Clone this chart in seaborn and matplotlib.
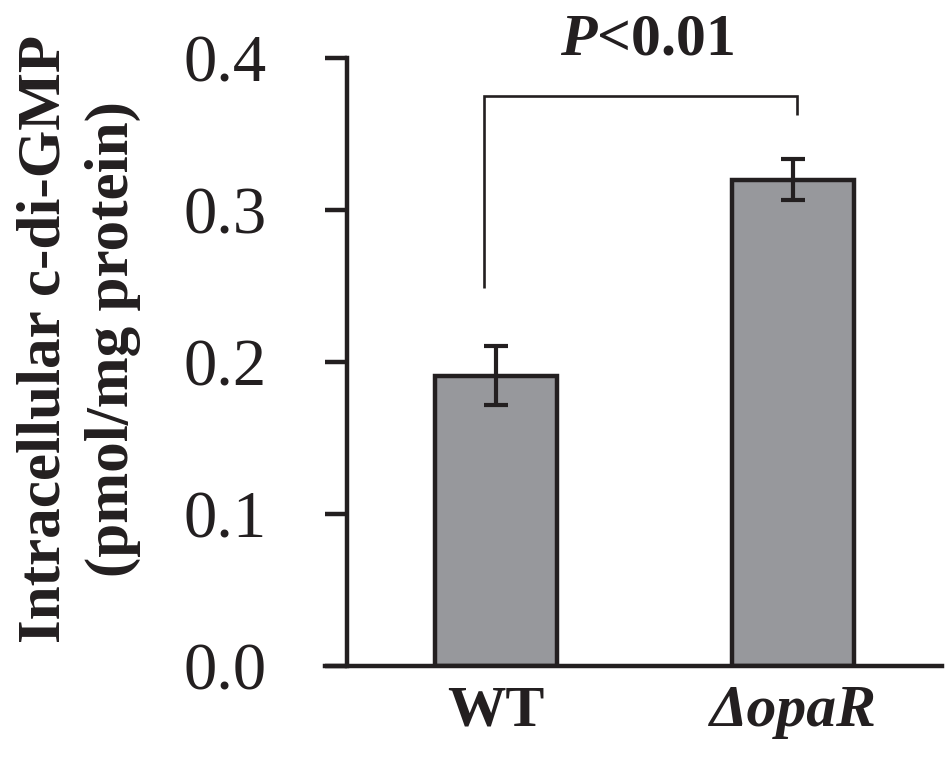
import matplotlib
matplotlib.use("Agg")
import matplotlib.pyplot as plt
import seaborn as sns
import pandas as pd

# ---- data ----
strains = ["WT", "ΔopaR"]
cdigmp = [0.191, 0.320]
cdigmp_err = [0.0195, 0.0135]
y_ticks = [0.0, 0.1, 0.2, 0.3, 0.4]
y_tick_labels = ["0.0", "0.1", "0.2", "0.3", "0.4"]
p_label = "P<0.01"

sns.set_theme(style="white")
plt.rcParams["font.family"] = ["Liberation Serif", "DejaVu Serif"]
plt.rcParams["mathtext.fontset"] = "custom"
plt.rcParams["mathtext.it"] = "Liberation Serif:italic:bold"
plt.rcParams["mathtext.rm"] = "Liberation Serif:bold"
plt.rcParams["mathtext.bf"] = "Liberation Serif:bold"

ink = "#231f20"
fill = "#97989c"

df = pd.DataFrame({"strain": strains, "value": cdigmp})

fig = plt.figure(figsize=(9.5, 7.59), dpi=100)
ax = fig.add_axes([347/950, 93/759, (942-347)/950, (666-58)/759])

sns.barplot(data=df, x="strain", y="value", order=strains, color=fill,
            saturation=1, width=0.41, edgecolor=ink, linewidth=3.2,
            errorbar=None, ax=ax)

ax.errorbar(range(len(strains)), cdigmp, yerr=cdigmp_err, fmt="none",
            ecolor=ink, elinewidth=3.0, capsize=8.3, capthick=3.0, zorder=5)

ax.set_xlim(-0.5, 1.5)
ax.set_ylim(0, 0.4)
ax.set_yticks(y_ticks)
ax.set_yticklabels(y_tick_labels)
ax.set_xlabel("")
ax.set_ylabel("")

for side in ["top", "right"]:
    ax.spines[side].set_visible(False)
for side in ["left", "bottom"]:
    ax.spines[side].set_color(ink)
    ax.spines[side].set_linewidth(3.2)
ax.spines["bottom"].set_bounds(-0.5 - 22/297.5, 1.5)

ax.tick_params(axis="y", which="major", direction="out", length=16, width=3.2,
               color=ink, pad=42, labelsize=48, labelcolor=ink, left=True)
ax.tick_params(axis="x", which="major", length=0, pad=14, labelcolor=ink)

xl = ax.get_xticklabels()
xl[0].set_fontsize(42)
xl[0].set_fontweight("bold")
xl[1].set_fontsize(43)
xl[1].set_fontweight("bold")
xl[1].set_fontstyle("italic")

# significance bracket
ax.plot([-0.04, -0.04, 1.013, 1.013], [0.249, 0.375, 0.375, 0.3625],
        color=ink, lw=1.9, clip_on=False, solid_capstyle="butt",
        solid_joinstyle="miter")
ax.text(0.508, 0.402, r"$\it{P}$" + "<0.01", ha="center", va="baseline",
        fontsize=43, fontweight="bold", color=ink, clip_on=False)

fig.text(79/950, 1 - 339/759, "Intracellular c-di-GMP\n(pmol/mg protein)",
         rotation=90, ha="center", va="center", multialignment="center",
         fontsize=44, fontweight="bold", color=ink, linespacing=1.3)

fig.savefig("out.png", dpi=100)
